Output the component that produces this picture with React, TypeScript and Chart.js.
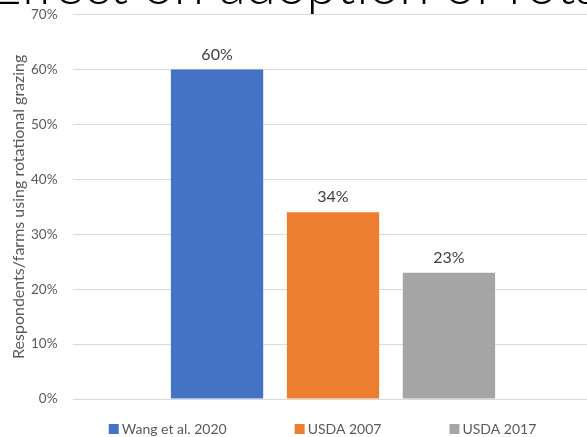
import React, { useEffect, useRef } from 'react';
import { Chart, registerables } from 'chart.js';

Chart.register(...registerables);

const categories = [''];
const seriesLabels = ['Wang et al. 2020', 'USDA 2007', 'USDA 2017'];
const seriesValues = [60, 34, 23];
const seriesColors = ['#4472C4', '#ED7D31', '#A5A5A5'];
const yMin = 0;
const yMax = 70;
const yStep = 10;
const yAxisTitle = 'Respondents/farms using rotational grazing';
const chartTitle = 'Effect on adoption of rotational grazing';

const FONT = "Lato, 'Open Sans', sans-serif";
const LEGEND_GAP = '\u2003\u2003\u2003\u2003\u2002';
const CANVAS_SHIFT = 9;

const cutTitlePlugin = {
  id: 'cutTitle',
  afterDraw(chart: any) {
    const ctx = chart.ctx;
    const size = 55;
    ctx.save();
    ctx.font = `300 ${size}px ${FONT}`;
    ctx.fillStyle = '#000000';
    ctx.textAlign = 'left';
    ctx.textBaseline = 'alphabetic';
    const lead = ctx.measureText(chartTitle.slice(0, chartTitle.indexOf('p'))).width;
    const x0 = 311 - lead - 0.08 * size;
    ctx.fillText(chartTitle, x0, 4 + CANVAS_SHIFT);
    ctx.restore();
  },
};

const valueLabelPlugin = {
  id: 'valueLabels',
  afterDatasetsDraw(chart: any) {
    const ctx = chart.ctx;
    ctx.save();
    ctx.font = `16px ${FONT}`;
    ctx.fillStyle = '#404040';
    ctx.textAlign = 'center';
    ctx.textBaseline = 'alphabetic';
    chart.data.datasets.forEach((ds: any, i: number) => {
      const meta = chart.getDatasetMeta(i);
      meta.data.forEach((el: any, j: number) => {
        ctx.fillText(`${ds.data[j]}%`, el.x, el.y - 10);
      });
    });
    ctx.restore();
  },
};

export default function App() {
  const ref = useRef<HTMLCanvasElement | null>(null);

  useEffect(() => {
    if (!ref.current) return;
    const chart = new Chart(ref.current, {
      type: 'bar',
      data: {
        labels: categories,
        datasets: seriesLabels.map((label, i) => ({
          label,
          data: [seriesValues[i]],
          backgroundColor: seriesColors[i],
          borderWidth: 0,
          categoryPercentage: 0.669,
          barPercentage: 0.796,
          pointStyle: 'rect',
        })),
      },
      options: {
        responsive: false,
        animation: false,
        devicePixelRatio: 1,
        layout: { padding: { top: 0, left: 0, right: 0, bottom: 0 } },
        scales: {
          x: { display: false },
          y: {
            position: 'left',
            min: yMin,
            max: yMax,
            ticks: {
              stepSize: yStep,
              callback: (v: any) => `${v}%`,
              color: '#595959',
              font: { family: FONT, size: 13.5 },
              padding: 15.5,
            },
            grid: { color: '#d9d9d9', drawTicks: false },
            border: { display: false },
            title: {
              display: true,
              text: yAxisTitle,
              color: '#595959',
              font: { family: FONT, size: 16 },
              padding: { top: 8.8, bottom: 0 },
            },
            afterFit: (s: any) => {
              s.width = 73;
            },
          },
          yRight: {
            position: 'right',
            display: true,
            ticks: { display: false },
            grid: { display: false, drawTicks: false },
            border: { display: false },
            afterFit: (s: any) => {
              s.width = 56;
            },
          },
        },
        plugins: {
          legend: {
            position: 'bottom',
            labels: {
              usePointStyle: true,
              boxWidth: 2,
              boxHeight: 10,
              padding: 23,
              color: '#595959',
              font: { family: FONT, size: 14 },
              generateLabels: (c: any) => {
                const items = Chart.defaults.plugins.legend.labels.generateLabels(c);
                items.forEach((it: any, i: number) => {
                  it.pointStyle = 'rect';
                  if (i < items.length - 1) it.text = it.text + LEGEND_GAP;
                });
                return items;
              },
            },
          },
          tooltip: { enabled: false },
          title: { display: false },
        },
      },
      plugins: [valueLabelPlugin, cutTitlePlugin],
    } as any);
    return () => chart.destroy();
  }, []);

  return (
    <div
      style={{
        position: 'fixed',
        left: 0,
        top: 0,
        width: 587,
        height: 437,
        overflow: 'hidden',
        background: '#ffffff',
      }}
    >
      <canvas
        ref={ref}
        width={649}
        height={455}
        style={{ display: 'block', position: 'absolute', left: 0, top: -CANVAS_SHIFT }}
      />
    </div>
  );
}
